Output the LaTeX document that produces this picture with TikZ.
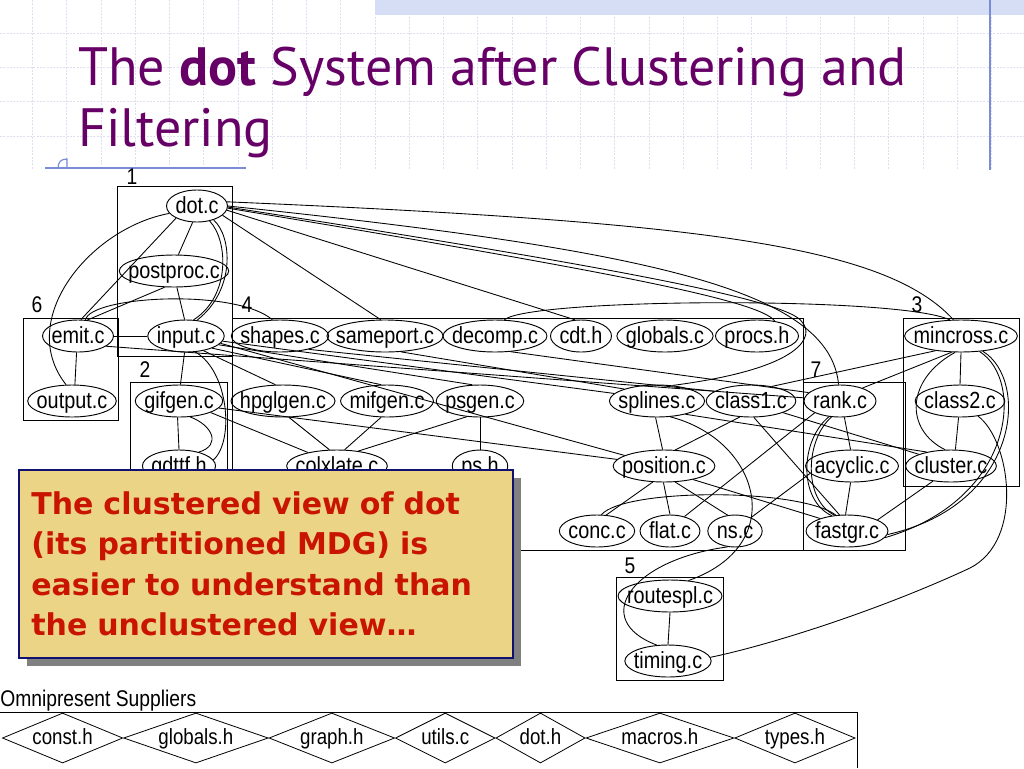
\documentclass[tikz,border=0pt]{standalone}
\usepackage{fontspec}
\newfontfamily\graphfont[FakeStretch=0.85]{Liberation Sans}
\newfontfamily\titlefont{PT Sans}
\newfontfamily\notefont{DejaVu Sans}
\usetikzlibrary{shapes.geometric, positioning, shadows}
\definecolor{titlepurple}{RGB}{102, 0, 102}
\definecolor{notered}{RGB}{200, 20, 0}
\definecolor{notefill}{RGB}{236, 212, 134}
\definecolor{noteline}{RGB}{16, 16, 110}
\definecolor{shadowgray}{RGB}{128, 128, 128}
\definecolor{gridlav}{RGB}{222, 224, 242}
\definecolor{bandblue}{RGB}{214, 222, 245}
\definecolor{ruleblue}{RGB}{122, 140, 214}

\begin{document}
\begin{tikzpicture}[x=0.75pt, y=-0.75pt,
  execute at begin picture={\graphfont\fontsize{17.5}{20}\selectfont},
  modnode/.style={ellipse, draw, line width=0.7pt, inner sep=0pt, minimum height=24pt,
    minimum width={width("#1")+13.5}, text height=11.5pt, text depth=1pt,
    font=\graphfont\fontsize{17.5}{20}\selectfont, node contents={\makebox[0pt]{#1}}},
  suppnode/.style={diamond, draw, line width=0.6pt, inner sep=0pt, minimum height=37.5pt,
    minimum width={1.57*width("#1")+15}, text height=10.5pt, text depth=1pt,
    font=\graphfont\fontsize{16.5}{19}\selectfont, node contents={\makebox[0pt]{#1}}},
  clusterbox/.style={draw, line width=0.7pt},
  clusterlabel/.style={font=\graphfont\fontsize{17}{19}\selectfont, inner sep=0pt},
  dep/.style={draw, line width=0.65pt},
  gridline/.style={draw=gridlav, line width=0.6pt, dash pattern=on 1.5pt off 1pt},
  titletext/.style={font=\titlefont\fontsize{40.5}{48}\selectfont, text=titlepurple, inner sep=0pt, anchor=base west},
  calloutbox/.style={draw=noteline, line width=1.5pt, fill=notefill, minimum width=370.5pt,
    minimum height=141pt, text width=352pt, align=left, inner sep=0pt, text=notered,
    font=\notefont\bfseries\fontsize{22.5}{30.4}\selectfont,
    drop shadow={shadow xshift=6pt, shadow yshift=-6pt, fill=shadowgray, opacity=1}}]

  \useasboundingbox (0,0) rectangle (1024,768);

  % slide background
  \foreach \gx in {0,...,29} \draw[gridline] ({32.5+34.25*\gx},0) -- ({32.5+34.25*\gx},170);
  \foreach \gy in {33,67.5,101.7,136} \draw[gridline] (0,\gy) -- (1024,\gy);
  \fill[bandblue] (375,0) rectangle (1024,15);
  \draw[ruleblue, line width=0.9pt] (990,0) -- (990,170);
  \draw[ruleblue, line width=0.9pt] (45,168) -- (246,168);
  \draw[ruleblue, line width=0.9pt] (58,168) .. controls (58,162) and (61,159) .. (67,159) -- (67,168);

  % title
  \node[titletext] (title1) at (78,85) {The \textbf{dot} System after Clustering and};
  \node[titletext] (title2) at (78,146) {Filtering};

  % clusters
  \draw[clusterbox] (117,186) rectangle (232,356);
  \draw[clusterbox] (23,318) rectangle (118,420);
  \draw[clusterbox] (130,382) rectangle (227,550);
  \draw[clusterbox] (232,318) rectangle (803,550);
  \draw[clusterbox] (803,382) rectangle (905,550);
  \draw[clusterbox] (903,318) rectangle (1019,486);
  \draw[clusterbox] (616,577) rectangle (723,680);
  \node[clusterlabel] (lab1) at (132,177) {1};
  \node[clusterlabel] (lab6) at (37,305) {6};
  \node[clusterlabel] (lab2) at (145,370) {2};
  \node[clusterlabel] (lab4) at (247,305) {4};
  \node[clusterlabel] (lab7) at (816,370) {7};
  \node[clusterlabel] (lab3) at (917,305) {3};
  \node[clusterlabel] (lab5) at (630,566) {5};

  % modules
  \node (dotc) at (197,206) [modnode=dot.c];
  \node (postproc) at (174,271) [modnode=postproc.c];
  \node (emit) at (78,336) [modnode=emit.c];
  \node (input) at (186,336) [modnode=input.c];
  \node (shapes) at (280,336) [modnode=shapes.c];
  \node (sameport) at (385,336) [modnode=sameport.c];
  \node (decomp) at (495,336) [modnode=decomp.c];
  \node (cdth) at (581,336) [modnode=cdt.h];
  \node (globalsc) at (665,336) [modnode=globals.c];
  \node (procsh) at (757,336) [modnode=procs.h];
  \node (mincross) at (961,336) [modnode=mincross.c];
  \node (output) at (72,401) [modnode=output.c];
  \node (gifgen) at (179,401) [modnode=gifgen.c];
  \node (hpglgen) at (283,401) [modnode=hpglgen.c];
  \node (mifgen) at (387,401) [modnode=mifgen.c];
  \node (psgen) at (480,401) [modnode=psgen.c];
  \node (splines) at (657,401) [modnode=splines.c];
  \node (class1) at (751,401) [modnode=class1.c];
  \node (rank) at (840,401) [modnode=rank.c];
  \node (class2) at (960,401) [modnode=class2.c];
  \node (gdttf) at (179,466) [modnode=gdttf.h];
  \node (colxlate) at (337,466) [modnode=colxlate.c];
  \node (psh) at (480,466) [modnode=ps.h];
  \node (position) at (664,466) [modnode=position.c];
  \node (acyclic) at (852,466) [modnode=acyclic.c];
  \node (cluster) at (951,466) [modnode=cluster.c];
  \node (conc) at (597,531) [modnode=conc.c];
  \node (flat) at (670,531) [modnode=flat.c];
  \node (ns) at (735,531) [modnode=ns.c];
  \node (fastgr) at (847,531) [modnode=fastgr.c];
  \node (routespl) at (670,596) [modnode=routespl.c];
  \node (timing) at (668,661) [modnode=timing.c];

  % clusters 1 and 6
  \draw[dep] (dotc.-105) -- (postproc.75);
  \draw[dep] (dotc.-40) .. controls (232,236) and (236,290) .. (input.55);
  \draw[dep] (dotc.-50) .. controls (228,240) and (231,296) .. (input.65);
  \draw[dep] (dotc.-150) -- (emit.80);
  \draw[dep] (dotc.-165) .. controls (90,228) and (15,320) .. (output.110);
  \draw[dep] (postproc.-80) -- (input.95);
  \draw[dep] (postproc.-120) -- (emit.60);
  \draw[dep] (emit.east) -- (input.west);
  \draw[dep] (emit.-95) -- (output.80);
  \draw[dep] (emit.65) .. controls (90,296) and (235,288) .. (shapes.115);

  % dot.c to the right
  \draw[dep] (dotc.-20) -- (sameport.105);
  \draw[dep] (dotc.-8) -- (cdth.110);
  \draw[dep] (dotc.8) .. controls (700,222) and (885,245) .. (mincross.115);
  \draw[dep] (dotc.0) .. controls (650,250) and (830,290) .. (rank.95);
  \draw[dep] (dotc.-4) .. controls (600,270) and (760,300) .. (procsh.40);
  \draw[dep] (dotc.-2) .. controls (600,265) and (790,300) .. (802,322) .. controls (814,335) and (806,368) .. (splines.45);

  % input.c fan
  \draw[dep] (input.-95) -- (gifgen.85);
  \draw[dep] (input.-60) .. controls (228,370) and (235,440) .. (gdttf.10);
  \draw[dep] (input.-40) -- (hpglgen.115);
  \draw[dep] (input.-25) -- (mifgen.110);
  \draw[dep] (input.-15) -- (psgen.115);
  \draw[dep] (input.-8) -- (splines.170);
  \draw[dep] (input.-12) -- (position.165);
  \draw[dep] (emit.-20) -- (rank.175);
  \draw[dep] (shapes.-25) -- (class1.165);

  % cluster 2
  \draw[dep] (gifgen.-95) -- (gdttf.90);
  \draw[dep] (gifgen.-55) .. controls (212,425) and (222,445) .. (gdttf.35);
  \draw[dep] (gifgen.-20) -- (colxlate.155);
  \draw[dep] (gifgen.-10) -- (position.172);

  % cluster 4
  \draw[dep] (hpglgen.-70) -- (colxlate.115);
  \draw[dep] (mifgen.-110) -- (colxlate.65);
  \draw[dep] (psgen.-130) -- (colxlate.35);
  \draw[dep] (psgen.-90) -- (psh.90);
  \draw[dep] (sameport.-45) -- (splines.160);
  \draw[dep] (decomp.-45) -- (rank.165);
  \draw[dep] (decomp.60) .. controls (530,298) and (900,296) .. (mincross.125);
  \draw[dep] (splines.-95) -- (position.95);
  \draw[dep] (splines.-50) .. controls (760,440) and (790,545) .. (routespl.40);
  \draw[dep] (splines.-25) -- (cluster.150);
  \draw[dep] (class1.-125) -- (position.55);
  \draw[dep] (class1.-80) -- (fastgr.115);
  \draw[dep] (class1.-20) -- (cluster.160);
  \draw[dep] (position.-125) -- (conc.60);
  \draw[dep] (position.-92) -- (flat.90);
  \draw[dep] (position.-55) -- (ns.115);
  \draw[dep] (position.-25) -- (fastgr.155);
  \draw[dep] (conc.75) .. controls (625,488) and (800,488) .. (fastgr.125);
  \draw[dep] (flat.45) -- (rank.-155);
  \draw[dep] (ns.40) -- (acyclic.-170);
  \draw[dep] (ns.-115) .. controls (630,560) and (590,620) .. (timing.125);

  % clusters 7, 3 and 5
  \draw[dep] (rank.-75) -- (acyclic.95);
  \draw[dep] (rank.-125) .. controls (800,440) and (798,500) .. (fastgr.135);
  \draw[dep] (rank.-118) .. controls (805,440) and (803,500) .. (fastgr.128);
  \draw[dep] (acyclic.-95) -- (fastgr.95);
  \draw[dep] (mincross.-150) -- (class1.35);
  \draw[dep] (mincross.-120) -- (rank.30);
  \draw[dep] (mincross.-90) -- (class2.90);
  \draw[dep] (mincross.-110) .. controls (905,380) and (905,430) .. (cluster.110);
  \draw[dep] (mincross.-40) .. controls (1025,380) and (1015,500) .. (fastgr.-10);
  \draw[dep] (mincross.-35) .. controls (1030,380) and (1020,505) .. (fastgr.-5);
  \draw[dep] (class2.-95) -- (cluster.75);
  \draw[dep] (class2.-40) .. controls (1010,440) and (1025,540) .. (970,568) .. controls (880,610) and (770,645) .. (timing.5);
  \draw[dep] (cluster.-140) -- (fastgr.20);
  \draw[dep] (routespl.-90) -- (timing.90);

  % callout
  \node[calloutbox, anchor=north west] (note) at (18,469) {The clustered view of dot\\(its partitioned MDG) is\\easier to understand than\\the unclustered view…};

  % omnipresent suppliers
  \node[clusterlabel, anchor=base west] (omni) at (0,706) {Omnipresent Suppliers};
  \draw[clusterbox] (0,712) -- (857,712) -- (857,768);
  \node (consth) at (2,738) [suppnode=const.h, anchor=west];
  \node (globalsh) [suppnode=globals.h, right=0pt of consth];
  \node (graphh) [suppnode=graph.h, right=0pt of globalsh];
  \node (utilsc) [suppnode=utils.c, right=0pt of graphh];
  \node (doth) [suppnode=dot.h, right=0pt of utilsc];
  \node (macrosh) [suppnode=macros.h, right=0pt of doth];
  \node (typesh) [suppnode=types.h, right=0pt of macrosh];
\end{tikzpicture}
\end{document}
